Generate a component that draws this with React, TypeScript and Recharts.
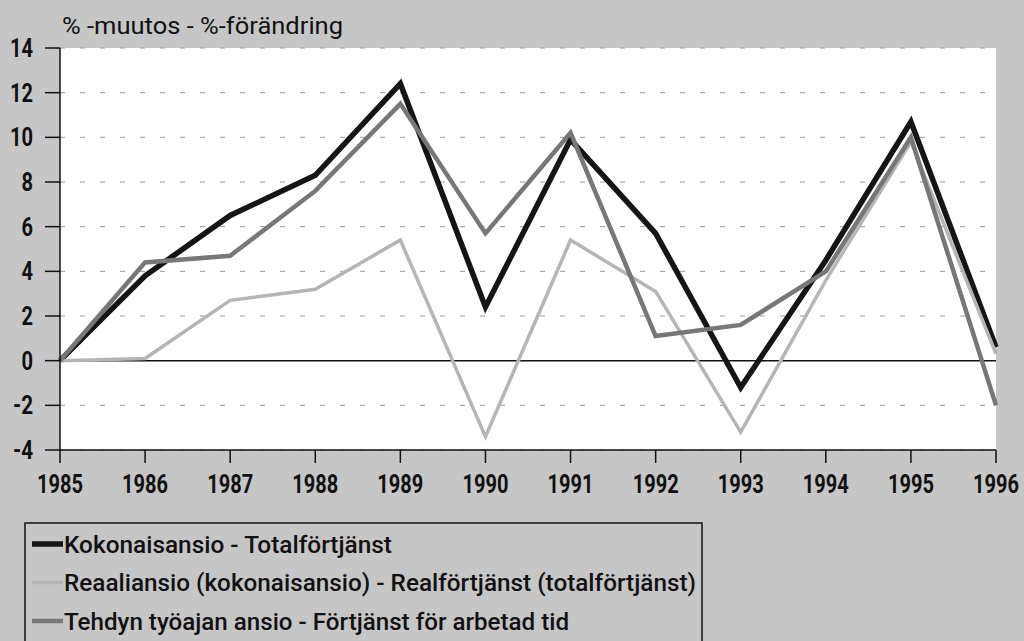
import { CartesianGrid, Line, LineChart, ReferenceLine, XAxis, YAxis } from "recharts";

const years = ["1985", "1986", "1987", "1988", "1989", "1990", "1991", "1992", "1993", "1994", "1995", "1996"];
// Kokonaisansio - Totalförtjänst
const total = [0, 3.8, 6.5, 8.3, 12.4, 2.4, 9.9, 5.7, -1.2, 4.5, 10.7, 0.6];
// Reaaliansio (kokonaisansio) - Realförtjänst (totalförtjänst)
const real = [0, 0.1, 2.7, 3.2, 5.4, -3.4, 5.4, 3.1, -3.2, 3.6, 9.8, 0.3];
// Tehdyn työajan ansio - Förtjänst för arbetad tid
const worked = [0, 4.4, 4.7, 7.6, 11.5, 5.7, 10.2, 1.1, 1.6, 4.0, 10.0, -2.0];
const yTicks = [-4, -2, 0, 2, 4, 6, 8, 10, 12, 14];

const series = [
  { key: "total", name: "Kokonaisansio - Totalförtjänst", color: "#151515", width: 5.5, textLen: 328 },
  { key: "real", name: "Reaaliansio (kokonaisansio) - Realförtjänst (totalförtjänst)", color: "#b5b5b5", width: 3.5, textLen: 632 },
  { key: "worked", name: "Tehdyn työajan ansio - Förtjänst för arbetad tid", color: "#777777", width: 4.5, textLen: 505 },
];

const font = "Roboto, 'DejaVu Sans', sans-serif";

const data = years.map((year, i) => ({ year, total: total[i], real: real[i], worked: worked[i] }));

// condensed look: force each label to the width it has in the picture
function YTick(props: any) {
  const { x, y, payload } = props;
  const s = String(payload.value);
  const len = s.replace("-", "").length * 11.5 + (s.startsWith("-") ? 8.5 : 0);
  return (
    <text x={x} y={y + 9} textAnchor="end" fill="#111" fontFamily={font} fontSize={26} fontWeight="bold" textLength={len} lengthAdjust="spacingAndGlyphs">
      {s}
    </text>
  );
}

// smaller font stretched upward, so the natural width stays inside the page
function XTick(props: any) {
  const { x, y, payload } = props;
  return (
    <text
      x={0}
      y={0}
      transform={`translate(${x},${y + 18}) scale(1,1.17)`}
      textAnchor="middle"
      fill="#111"
      fontFamily={font}
      fontSize={22}
      fontWeight="bold"
      textLength={46}
      lengthAdjust="spacingAndGlyphs"
    >
      {payload.value}
    </text>
  );
}

function Overlay() {
  return (
    <svg width={1024} height={641} style={{ position: "absolute", left: 0, top: 0, pointerEvents: "none" }}>
      <text x={62} y={34} fill="#111" fontFamily={font} fontSize={23} textLength={281} lengthAdjust="spacingAndGlyphs">
        % -muutos - %-förändring
      </text>
      <rect x={25} y={523} width={677} height={130} fill="none" stroke="#111" strokeWidth={1.5} />
      {series.map((s, i) => {
        const cy = 544 + i * 38.5;
        return (
          <g key={s.key}>
            <line x1={32} x2={63} y1={cy} y2={cy} stroke={s.color} strokeWidth={s.width} />
            <text x={64} y={cy + 8.5} fill="#111" fontFamily={font} fontSize={23} fontWeight={500} textLength={s.textLen} lengthAdjust="spacingAndGlyphs">
              {s.name}
            </text>
          </g>
        );
      })}
    </svg>
  );
}

export default function App() {
  return (
    <div style={{ position: "absolute", left: 0, top: 0, width: 1024, height: 641, background: "#c6c6c6", overflow: "hidden" }}>
      <LineChart width={1024} height={641} data={data} margin={{ top: 48, right: 28, left: 0, bottom: 0 }}>
        <CartesianGrid vertical={false} stroke="#9a9a9a" strokeDasharray="5 15" fill="#ffffff" />
        <XAxis
          dataKey="year"
          height={191}
          interval={0}
          stroke="#111"
          strokeWidth={1.5}
          tickSize={13}
          tickMargin={12}
          tick={<XTick />}
        />
        <XAxis xAxisId="top" orientation="top" dataKey="year" height={0} tick={false} tickLine={false} stroke="#111" strokeWidth={1.5} />
        <YAxis
          domain={[-4, 14]}
          ticks={yTicks}
          interval={0}
          width={60}
          stroke="#111"
          strokeWidth={1.5}
          tickSize={15}
          tickMargin={12}
          tick={<YTick />}
        />
        <YAxis yAxisId="right" orientation="right" domain={[-4, 14]} width={0} tick={false} tickLine={false} stroke="#111" strokeWidth={1.5} />
        <ReferenceLine y={0} stroke="#111" strokeWidth={1.5} />
        {series.map((s) => (
          <Line
            key={s.key}
            type="linear"
            dataKey={s.key}
            name={s.name}
            stroke={s.color}
            strokeWidth={s.width}
            dot={false}
            activeDot={false}
            isAnimationActive={false}
          />
        ))}
      </LineChart>
      <Overlay />
    </div>
  );
}
